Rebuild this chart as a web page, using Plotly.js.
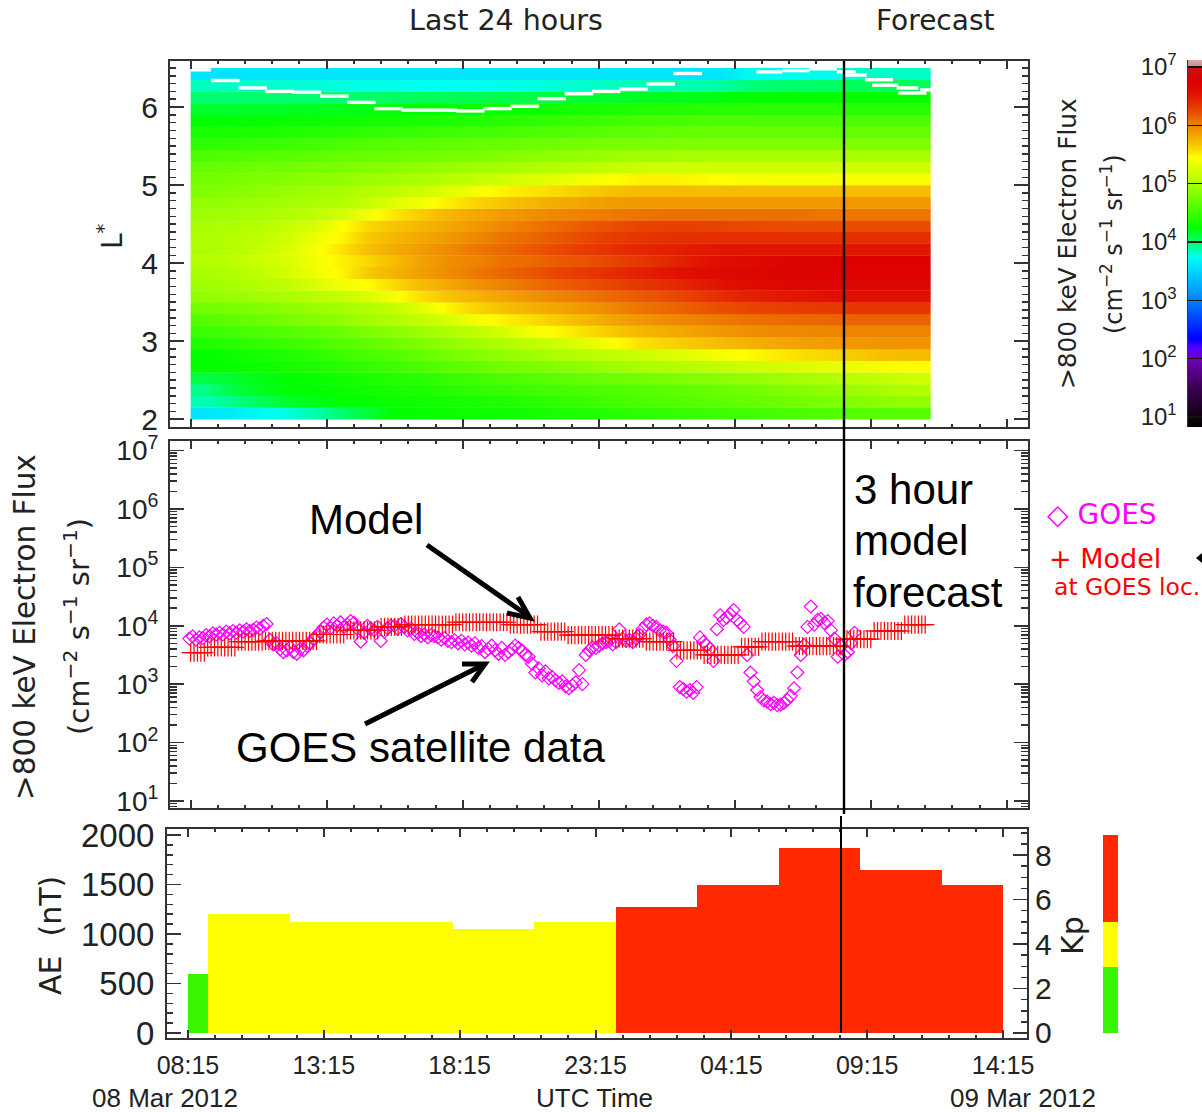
<!DOCTYPE html>
<html><head><meta charset="utf-8">
<script src="https://cdn.plot.ly/plotly-3.0.1.min.js"></script>
<style>html,body{margin:0;padding:0;background:#fff}#c{width:1202px;height:1112px}</style>
</head><body><div id="c"></div>
<script>
// ---------- data ----------
const heatHourEdges=[8.25,9.25,10.25,11.25,12.25,13.25,14.25,15.25,16.25,17.25,18.25,19.25,20.25,21.25,22.25,23.25,24.25,25.25,26.25,27.25,28.25,29.25,30.25,31.25,32.25,33.25,34.25,35.47];
const heatLEdges=[2,2.15,2.3,2.45,2.6,2.75,2.9,3.05,3.2,3.35,3.5,3.65,3.8,3.95,4.1,4.25,4.4,4.55,4.7,4.85,5,5.15,5.3,5.45,5.6,5.75,5.9,6.05,6.2,6.35,6.5];
// log10 flux, first row is L = 2.0 - 2.15
const heatLogFlux=[
[3.6,3.65,3.72,3.78,3.88,4.0,4.12,4.25,4.27,4.29,4.3,4.31,4.33,4.36,4.39,4.42,4.45,4.47,4.49,4.52,4.54,4.56,4.58,4.6,4.62,4.62,4.62],
[3.87,3.95,4.05,4.15,4.2,4.25,4.27,4.3,4.32,4.34,4.36,4.38,4.42,4.46,4.5,4.54,4.58,4.6,4.63,4.66,4.69,4.72,4.76,4.8,4.84,4.88,4.9],
[3.95,4.1,4.18,4.23,4.26,4.29,4.32,4.35,4.38,4.42,4.46,4.49,4.52,4.55,4.58,4.6,4.62,4.65,4.68,4.72,4.76,4.8,4.85,4.9,4.95,5.0,5.05],
[4.1,4.15,4.2,4.25,4.28,4.32,4.36,4.4,4.43,4.48,4.53,4.58,4.62,4.66,4.7,4.73,4.76,4.8,4.84,4.88,4.92,4.96,5.0,5.05,5.1,5.15,5.2],
[4.25,4.27,4.3,4.33,4.37,4.42,4.47,4.52,4.58,4.64,4.7,4.76,4.8,4.84,4.9,4.95,5.0,5.04,5.08,5.13,5.18,5.22,5.27,5.32,5.36,5.42,5.45],
[4.25,4.3,4.34,4.39,4.44,4.5,4.56,4.62,4.7,4.77,4.84,4.9,4.96,5.02,5.08,5.13,5.18,5.25,5.32,5.4,5.47,5.52,5.58,5.62,5.66,5.7,5.72],
[4.38,4.42,4.46,4.5,4.55,4.61,4.67,4.74,4.82,4.9,4.97,5.04,5.12,5.2,5.3,5.43,5.56,5.62,5.67,5.72,5.77,5.82,5.85,5.88,5.9,5.92,5.92],
[4.5,4.54,4.58,4.62,4.67,4.73,4.8,4.87,4.95,5.03,5.12,5.24,5.38,5.48,5.58,5.66,5.74,5.8,5.85,5.9,5.94,5.97,5.98,5.99,6.0,6.0,6.0],
[4.62,4.67,4.72,4.78,4.83,4.9,4.97,5.05,5.14,5.25,5.4,5.5,5.58,5.66,5.74,5.83,5.9,5.96,6.0,6.04,6.08,6.1,6.12,6.13,6.15,6.15,6.15],
[4.75,4.78,4.82,4.87,4.92,4.98,5.05,5.14,5.3,5.5,5.62,5.7,5.77,5.83,5.9,5.98,6.06,6.12,6.18,6.24,6.28,6.3,6.32,6.34,6.35,6.35,6.35],
[4.9,4.93,4.97,5.02,5.08,5.15,5.25,5.42,5.58,5.68,5.76,5.84,5.92,5.99,6.05,6.12,6.18,6.24,6.32,6.4,6.46,6.5,6.52,6.55,6.55,6.55,6.55],
[4.95,5.0,5.05,5.12,5.25,5.38,5.45,5.6,5.72,5.82,5.92,6.0,6.08,6.16,6.22,6.28,6.34,6.4,6.47,6.54,6.6,6.64,6.66,6.68,6.68,6.68,6.68],
[5.0,5.05,5.12,5.22,5.35,5.48,5.66,5.76,5.87,5.96,6.05,6.13,6.2,6.28,6.34,6.4,6.46,6.52,6.58,6.64,6.68,6.7,6.72,6.72,6.72,6.72,6.72],
[5.05,5.1,5.18,5.25,5.38,5.5,5.6,5.72,5.85,5.95,6.0,6.08,6.12,6.18,6.22,6.28,6.35,6.42,6.5,6.58,6.63,6.68,6.7,6.72,6.72,6.72,6.72],
[5.03,5.07,5.15,5.25,5.4,5.55,5.7,5.8,5.88,5.97,6.05,6.12,6.19,6.26,6.32,6.38,6.43,6.46,6.5,6.52,6.52,6.52,6.52,6.52,6.52,6.52,6.52],
[5.02,5.06,5.12,5.2,5.35,5.48,5.66,5.75,5.82,5.9,5.98,6.07,6.13,6.2,6.26,6.32,6.36,6.38,6.4,6.4,6.4,6.4,6.4,6.4,6.4,6.4,6.4],
[5.0,5.03,5.08,5.15,5.25,5.42,5.6,5.68,5.75,5.82,5.9,5.98,6.05,6.12,6.18,6.23,6.28,6.3,6.3,6.28,6.26,6.25,6.24,6.24,6.24,6.24,6.24],
[4.95,4.97,5.0,5.05,5.12,5.2,5.4,5.55,5.65,5.75,5.82,5.88,5.94,5.98,6.01,6.04,6.07,6.08,6.08,6.08,6.08,6.08,6.08,6.06,6.06,6.06,6.06],
[4.9,4.92,4.95,4.98,5.02,5.06,5.15,5.28,5.4,5.52,5.62,5.68,5.74,5.8,5.84,5.88,5.9,5.9,5.9,5.9,5.9,5.9,5.9,5.9,5.9,5.9,5.9],
[4.82,4.85,4.88,4.92,4.96,5.0,5.06,5.12,5.2,5.3,5.4,5.5,5.55,5.6,5.65,5.69,5.72,5.72,5.72,5.72,5.72,5.72,5.72,5.72,5.72,5.72,5.72],
[4.75,4.78,4.81,4.84,4.87,4.9,4.94,4.98,5.02,5.08,5.14,5.2,5.26,5.32,5.38,5.44,5.5,5.5,5.48,5.44,5.42,5.4,5.4,5.4,5.42,5.42,5.42],
[4.7,4.72,4.74,4.76,4.78,4.8,4.83,4.86,4.9,4.93,4.97,5.0,5.03,5.06,5.1,5.14,5.18,5.2,5.2,5.2,5.2,5.2,5.2,5.2,5.2,5.2,5.2],
[4.58,4.6,4.62,4.64,4.66,4.69,4.71,4.73,4.75,4.78,4.8,4.83,4.86,4.89,4.92,4.95,4.97,4.98,4.99,5.0,5.0,5.0,5.0,5.0,5.0,5.0,5.0],
[4.45,4.47,4.49,4.51,4.54,4.57,4.6,4.63,4.65,4.67,4.69,4.71,4.73,4.75,4.77,4.79,4.8,4.81,4.82,4.82,4.82,4.82,4.82,4.82,4.82,4.82,4.82],
[4.35,4.36,4.37,4.39,4.41,4.43,4.45,4.48,4.5,4.52,4.54,4.56,4.58,4.6,4.62,4.65,4.67,4.68,4.69,4.7,4.7,4.7,4.7,4.7,4.7,4.7,4.7],
[4.25,4.26,4.27,4.29,4.3,4.31,4.33,4.34,4.36,4.38,4.4,4.42,4.44,4.47,4.5,4.52,4.55,4.56,4.57,4.58,4.58,4.58,4.58,4.58,4.58,4.58,4.58],
[4.15,4.15,4.16,4.17,4.18,4.19,4.21,4.23,4.25,4.26,4.28,4.29,4.31,4.33,4.35,4.37,4.39,4.4,4.41,4.41,4.42,4.42,4.42,4.42,4.42,4.42,4.42],
[4.0,4.0,4.0,4.0,4.0,4.01,4.02,4.03,4.05,4.06,4.07,4.09,4.1,4.12,4.14,4.16,4.18,4.19,4.2,4.22,4.25,4.25,4.25,4.25,4.27,4.27,4.27],
[3.85,3.83,3.82,3.81,3.8,3.78,3.77,3.76,3.75,3.75,3.75,3.76,3.78,3.8,3.82,3.84,3.86,3.87,3.88,3.9,3.98,4.0,4.02,4.03,4.05,4.05,4.05],
[3.6,3.6,3.6,3.6,3.6,3.6,3.6,3.6,3.6,3.6,3.6,3.6,3.6,3.6,3.6,3.6,3.6,3.6,3.6,3.6,3.72,3.74,3.76,3.76,3.83,3.83,3.83]
];
// white drift-shell boundary: segment start hour, end hour, L
const lcStart=[8.25,9,10,11,12,13,14,15,16,17,18,19,20,21,22,23,24,25,26,29.05,30,31,32,32.3,33.04,33.3,34.2,34.26,35.07];
const lcEnd=[9,10.05,11.05,12.05,13.05,14.05,15.05,16.05,17.05,18.05,19.05,20.05,21.05,22.05,23.05,24.05,25.05,26.05,27.05,30,31,32,32.7,33.1,34.07,34.26,35,35.3,35.47];
const lcL=[6.477,6.34,6.245,6.2,6.19,6.14,6.06,5.98,5.96,5.96,5.95,5.98,6.01,6.107,6.17,6.2,6.23,6.295,6.43,6.45,6.467,6.49,6.45,6.41,6.35,6.28,6.245,6.18,6.22];

const fluxScaleLevels=[0.83,1,1.5,2,2.2,2.35,3,3.55,3.75,4,4.25,4.6,5,5.45,5.7,6,6.3,6.55,6.75,6.99,7,7.12];
const fluxScaleColors=['#000000','#100010','#3a0050','#7000b8','#5000ff','#0000ff','#0080ff','#00dcff','#00fff0','#00ff70','#00ff00','#50ff00','#a8ff00','#ffff00','#f6c000','#ee8400','#e84000','#e01000','#dc0000','#cc1010','#c88888','#d8a8a8'];
const colorbarLevels=[0.85,0.95,1.05,1.15,1.25,1.35,1.45,1.55,1.65,1.75,1.85,1.95,2.05,2.15,2.25,2.35,2.45,2.55,2.65,2.75,2.85,2.95,3.05,3.15,3.25,3.35,3.45,3.55,3.65,3.75,3.85,3.95,4.05,4.15,4.25,4.35,4.45,4.55,4.65,4.75,4.85,4.95,5.05,5.15,5.25,5.35,5.45,5.55,5.65,5.75,5.85,5.95,6.05,6.15,6.25,6.35,6.45,6.55,6.65,6.75,6.85,6.95,7.05,7.12];
const decadeTickVals=[1,2,3,4,5,6,7];
const decadeTickText=['10<sup>1</sup>','10<sup>2</sup>','10<sup>3</sup>','10<sup>4</sup>','10<sup>5</sup>','10<sup>6</sup>','10<sup>7</sup>'];

// log10 flux at successive samples
const modelFirstHour=8.25, modelHourStep=0.125;
const modelLogFlux=[3.54,3.54,3.54,3.54,3.54,3.63,3.63,3.63,3.63,3.63,3.63,3.63,3.63,3.63,3.73,3.73,3.73,3.73,3.73,3.73,3.73,3.73,3.74,3.74,3.74,3.74,3.74,3.74,3.74,3.74,3.74,3.74,3.74,3.74,3.74,3.74,3.74,3.74,3.85,3.85,3.85,3.85,3.85,3.85,3.85,3.85,3.92,3.92,3.92,3.92,3.92,3.92,3.92,3.92,3.92,3.92,3.98,3.98,3.98,3.98,3.98,3.98,3.98,4.02,4.02,4.02,4.02,4.02,4.02,4.02,4.02,4.02,4.02,4.02,4.02,4.02,4.02,4.02,4.06,4.06,4.06,4.06,4.06,4.06,4.06,4.06,4.06,4.06,4.06,4.06,4.06,4.06,4.06,4.06,4.02,4.02,4.02,4.02,4.02,4.02,4.02,4.02,4.02,3.9,3.9,3.9,3.9,3.9,3.9,3.9,3.9,3.84,3.84,3.84,3.84,3.84,3.84,3.84,3.84,3.84,3.84,3.84,3.84,3.84,3.84,3.78,3.78,3.78,3.78,3.78,3.78,3.78,3.78,3.78,3.73,3.73,3.73,3.73,3.73,3.73,3.73,3.73,3.73,3.58,3.58,3.58,3.58,3.58,3.58,3.58,3.58,3.5,3.5,3.5,3.5,3.5,3.5,3.5,3.5,3.5,3.5,3.5,3.64,3.64,3.64,3.64,3.64,3.64,3.73,3.73,3.73,3.73,3.73,3.73,3.73,3.73,3.73,3.73,3.65,3.65,3.65,3.65,3.65,3.65,3.65,3.65,3.65,3.65,3.65,3.65,3.65,3.65,3.77,3.77,3.77,3.77,3.77,3.77,3.77,3.77,3.77,3.91,3.91,3.91,3.91,3.91,3.91,3.91,3.91,3.91,4.02,4.02,4.02,4.02,4.02,4.02,4.02];
const goesFirstHour=8.2, goesHourStep=0.1235;
const goesLogFlux=[3.78,3.82,3.76,3.8,3.79,3.84,3.82,3.87,3.85,3.88,3.85,3.9,3.87,3.91,3.88,3.92,3.9,3.94,3.91,3.93,3.97,3.95,4.0,4.03,3.76,3.68,3.7,3.6,3.55,3.58,3.63,3.55,3.52,3.6,3.58,3.66,3.7,3.78,3.82,3.9,3.97,4.02,3.96,4.04,4.0,4.06,3.98,4.02,4.08,4.05,3.95,3.73,3.88,4.0,3.95,3.92,3.98,3.74,3.9,3.96,4.0,4.0,3.95,4.03,3.98,3.92,3.95,3.86,3.88,3.82,3.85,3.8,3.84,3.82,3.8,3.76,3.79,3.74,3.72,3.75,3.7,3.74,3.68,3.71,3.66,3.7,3.62,3.65,3.55,3.6,3.66,3.58,3.52,3.62,3.5,3.55,3.6,3.66,3.62,3.58,3.5,3.47,3.35,3.2,3.27,3.15,3.22,3.1,3.12,3.07,3.02,3.05,2.96,2.93,2.98,3.03,3.24,3.0,3.5,3.58,3.63,3.62,3.66,3.7,3.72,3.74,3.68,3.72,3.94,3.78,3.74,3.76,3.72,3.78,3.85,3.95,4.02,4.04,4.0,3.98,3.92,3.9,3.88,3.76,3.65,3.4,2.95,2.92,2.87,2.9,2.85,2.95,3.8,3.72,3.67,3.6,3.4,3.94,4.18,4.1,4.14,4.2,4.27,4.1,4.05,3.98,3.5,3.2,3.05,2.9,2.78,2.72,2.7,2.66,2.68,2.64,2.65,2.68,2.73,2.8,2.93,3.2,3.5,3.67,3.98,4.33,4.02,4.1,4.12,4.05,4.08,3.92,3.78,3.47,3.65,3.5,3.55,3.7,3.88];

const kpEdges=[8.25,9,12,15,18,21,24,27,30,33,36,38.25];
const kpValues=[2.67,5.33,5,5,4.67,5,5.67,6.67,8.33,7.33,6.67];
const kpColors=['#39f500','#ffff00','#ffff00','#ffff00','#ffff00','#ffff00','#ff2a00','#ff2a00','#ff2a00','#ff2a00','#ff2a00'];
const kpScaleBase=[0,2.97,4.99];
const kpScaleHeight=[2.97,2.02,3.91];
const kpScaleColors=['#39f500','#ffff00','#ff2a00'];

const timeTickVals=[8.25,13.25,18.25,23.25,28.25,33.25,38.25];
const timeTickText=['08:15','13:15','18:15','23:15','04:15','09:15','14:15'];

// ---------- helpers ----------
const W=1202,H=1112, px=v=>v/W, py=v=>1-v/H;
const INK='#222222', FRAME='#333333', SANS='"Liberation Sans", Arial, sans-serif', WIDE='"DejaVu Sans", sans-serif';
const dom=(a,b)=>[a/W,b/W], domY=(t,b)=>[1-b/H,1-t/H];
function note(text,x,y,size,opt={}){return {text,x:px(x),y:py(y),xref:'paper',yref:'paper',showarrow:false,xanchor:'center',yanchor:'middle',font:{family:opt.family||WIDE,size,color:opt.color||INK}};}
function rot(text,x,y,size,color){const a=note(text,x,y,size,{color});a.textangle=-90;return a;}
const pline=(x0,y0,x1,y1,w,c='#000')=>({type:'line',xref:'paper',yref:'paper',x0:px(x0),y0:py(y0),x1:px(x1),y1:py(y1),line:{color:c,width:w},layer:'above'});

function timeAxis(domain,range,anchor,labels){
  const a={domain,range,anchor,showgrid:false,zeroline:false,showline:true,linewidth:2,linecolor:FRAME,mirror:'ticks',
    ticks:'inside',ticklen:8,tickwidth:2,tickcolor:FRAME,showticklabels:!!labels,
    minor:{tick0:8.25,dtick:1,ticks:'inside',ticklen:3,tickwidth:2,tickcolor:FRAME,showgrid:false}};
  if(labels){Object.assign(a,{tickmode:'array',tickvals:timeTickVals,ticktext:timeTickText,ticklabelstandoff:4,tickfont:{family:SANS,size:25,color:INK}});}
  else{Object.assign(a,{tick0:8.25,dtick:5});}
  return a;
}
const yBase=(domain,range,anchor)=>({domain,range,anchor,showgrid:false,zeroline:false,showline:true,linewidth:2,linecolor:FRAME,
  ticks:'inside',tickwidth:1.5,tickcolor:FRAME,ticklen:14});

// ---------- traces ----------
const stops=fluxScaleLevels.map((l,i)=>[(l-0.83)/(7.12-0.83),fluxScaleColors[i]]);
const lcX=[],lcY=[];
lcL.forEach((l,i)=>{lcX.push(lcStart[i],lcEnd[i],null);lcY.push(l,l,null);});

// each L band is its own heatmap: smooth along time, stepped across L
const heatTraces=heatLogFlux.map((row,r)=>({type:'heatmap',x:heatHourEdges,
  y:[heatLEdges[r],(heatLEdges[r]+heatLEdges[r+1])/2,heatLEdges[r+1]],z:[row,row],
  zmin:0.83,zmax:7.12,colorscale:stops,showscale:false,zsmooth:'best',xaxis:'x',yaxis:'y',hoverinfo:'skip'}));

const traces=heatTraces.concat([
 {type:'scatter',mode:'lines',x:lcX,y:lcY,line:{color:'#ffffff',width:3.4},connectgaps:false,xaxis:'x',yaxis:'y',showlegend:false,hoverinfo:'skip'},
 {type:'heatmap',x:[0,1],y:colorbarLevels,z:colorbarLevels.map(v=>[v,v]),zmin:0.83,zmax:7.12,colorscale:stops,showscale:false,zsmooth:'best',xaxis:'x2',yaxis:'y2',hoverinfo:'skip'},
 {type:'scatter',mode:'markers',name:'GOES',x:goesLogFlux.map((_,i)=>goesFirstHour+i*goesHourStep),y:goesLogFlux.map(v=>Math.pow(10,v)),
  marker:{symbol:'diamond-open',size:10,color:'#ff00ff',line:{width:1.2,color:'#ff00ff'}},xaxis:'x3',yaxis:'y3',showlegend:false},
 {type:'scatter',mode:'markers',name:'Model',x:modelLogFlux.map((_,i)=>modelFirstHour+i*modelHourStep),y:modelLogFlux.map(v=>Math.pow(10,v)),
  marker:{symbol:'cross-thin-open',size:13,color:'#ff0000',line:{width:1.2,color:'#ff0000'}},xaxis:'x3',yaxis:'y3',showlegend:false},
 {type:'bar',x:kpValues.map((_,i)=>(kpEdges[i]+kpEdges[i+1])/2),width:kpValues.map((_,i)=>kpEdges[i+1]-kpEdges[i]),y:kpValues,marker:{color:kpColors,line:{width:0}},xaxis:'x4',yaxis:'y4',showlegend:false},
 {type:'scatter',mode:'none',x:[8.25],y:[0],xaxis:'x4',yaxis:'y5',showlegend:false,hoverinfo:'skip'},
 {type:'bar',x:[0,0,0],y:kpScaleHeight,base:kpScaleBase,width:1,marker:{color:kpScaleColors,line:{width:0}},xaxis:'x5',yaxis:'y6',showlegend:false,hoverinfo:'skip'}
]);

// ---------- layout ----------
const topY=yBase(domY(61,427),[1.9,6.59],'x');
Object.assign(topY,{tickmode:'array',tickvals:[2,3,4,5,6],ticktext:['2','3','4','5','6'],mirror:'ticks',ticklabelstandoff:4,tickfont:{family:SANS,size:30,color:INK},
  minor:{dtick:0.1,tick0:2,ticks:'inside',ticklen:6,tickwidth:1.5,tickcolor:FRAME,showgrid:false}});
const midY=yBase(domY(441,808),[0.88,7.163],'x3');
Object.assign(midY,{type:'log',tickmode:'array',tickvals:decadeTickVals.map(v=>Math.pow(10,v)),ticktext:decadeTickText,mirror:'ticks',ticklabelstandoff:4,tickfont:{family:SANS,size:28,color:INK},
  minor:{dtick:'D1',ticks:'inside',ticklen:7,tickwidth:1.5,tickcolor:FRAME,showgrid:false}});
const kpY=yBase(domY(829,1038),[-0.225,9.17],'x4');
Object.assign(kpY,{side:'right',tick0:0,dtick:2,ticklabelstandoff:0,ticklen:14,tickfont:{family:SANS,size:30,color:INK},
  minor:{tick0:0,dtick:0.5,ticks:'inside',ticklen:6,tickwidth:1.5,tickcolor:FRAME,showgrid:false}});
const aeY=yBase(domY(829,1038),[-50.5,2061],'x4');
Object.assign(aeY,{side:'left',overlaying:'y4',tick0:0,dtick:500,ticklabelstandoff:4,tickfont:{family:SANS,size:33,color:INK},
  minor:{tick0:0,dtick:100,ticks:'inside',ticklen:6,tickwidth:1.5,tickcolor:FRAME,showgrid:false}});

const layout={
 width:W,height:H,margin:{l:0,r:0,t:0,b:0},paper_bgcolor:'#fff',plot_bgcolor:'#fff',showlegend:false,bargap:0,hovermode:false,
 xaxis:timeAxis(dom(170,1028),[7.49,39.03],'y',false),
 yaxis:topY,
 xaxis2:{domain:dom(1188,1202),range:[0.5,1],anchor:'y2',visible:false,fixedrange:true},
 yaxis2:{domain:domY(60,427),range:[0.83,7.12],anchor:'x2',showgrid:false,zeroline:false,showline:true,linewidth:1.5,linecolor:FRAME,ticks:'inside',ticklen:14,tickwidth:1.5,tickcolor:'#111',tickmode:'array',tickvals:decadeTickVals,ticktext:decadeTickText,ticklabelstandoff:5,tickfont:{family:SANS,size:24,color:INK}},
 xaxis3:timeAxis(dom(170,1028),[7.49,39.03],'y3',false),
 yaxis3:midY,
 xaxis4:timeAxis(dom(167,1027),[7.48,39.13],'y4',true),
 yaxis4:kpY,
 yaxis5:aeY,
 xaxis5:{domain:dom(1103,1118),range:[-0.5,0.5],anchor:'y6',visible:false},
 yaxis6:{domain:domY(829,1038),range:[-0.225,9.17],anchor:'x5',visible:false},
 annotations:[
  note('Last\u00a024\u00a0hours',506,20,28.5),
  note('Forecast',935,20,28),
  note('3 hour',913,489,42,{family:SANS,color:'#000'}),
  note('model',911,540,42,{family:SANS,color:'#000'}),
  note('forecast',928,592,42,{family:SANS,color:'#000'}),
  note('Model',366,519,42,{family:SANS,color:'#000'}),
  note('GOES satellite data',420,747,42,{family:SANS,color:'#000'}),
  note('◇ GOES',1102,514,28,{color:'#ff00ff'}),
  note('+ Model',1105,558,27,{color:'#ff0000'}),
  note('at GOES loc.',1127,587,23.5,{color:'#ff0000'}),
  rot('L<sup>*</sup>',110,236,28),
  rot('>800 keV Electron Flux',1068,244,24.8),
  rot('(cm<sup>−2</sup> s<sup>−1</sup> sr<sup>−1</sup>)',1112,244,24),
  rot('>800 keV Electron Flux',25,627,29.5),
  rot('(cm<sup>−2</sup> s<sup>−1</sup> sr<sup>−1</sup>)',77,627,29),
  rot('AE\u00a0\u00a0(nT)',50,936,30),
  rot('Kp',1072,936,30),
  note('08 Mar 2012',165,1098,26,{family:SANS}),
  note('UTC Time',594,1098,26,{family:SANS}),
  note('09 Mar 2012',1023,1098,26,{family:SANS})
 ],
 shapes:[
  pline(844,61,844,814,2.4),
  pline(841,816,841,1033,2),
  pline(427,545,527,615,5),
  {type:'path',xref:'paper',yref:'paper',path:`M ${px(518)} ${py(597)} L ${px(530)} ${py(618)} L ${px(507)} ${py(613)}`,line:{color:'#000',width:5},layer:'above'},
  pline(365,724,481,666,5),
  {type:'path',xref:'paper',yref:'paper',path:`M ${px(462)} ${py(664)} L ${px(485)} ${py(664)} L ${px(472)} ${py(682)}`,line:{color:'#000',width:5},layer:'above'},
  {type:'path',xref:'paper',yref:'paper',path:`M ${px(1196)} ${py(558)} L ${px(1202)} ${py(553)} L ${px(1202)} ${py(563)} Z`,fillcolor:'#000',line:{width:0},layer:'above'}
 ]
};
Plotly.newPlot('c',traces,layout,{staticPlot:true,displayModeBar:false});
</script></body></html>
